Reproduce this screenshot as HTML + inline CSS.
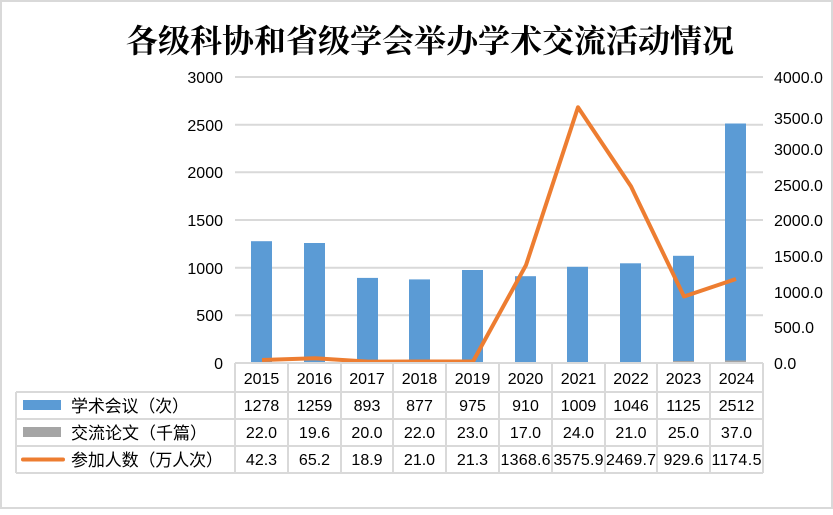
<!DOCTYPE html>
<html><head><meta charset="utf-8"><style>
body{margin:0;background:#fff}
svg text{font-family:"Liberation Sans","Noto Sans CJK SC",sans-serif;fill:#000}
</style></head><body>
<svg width="833" height="510" xmlns="http://www.w3.org/2000/svg">
<rect x="1" y="1" width="831" height="507" fill="#fff" stroke="#d9d9d9" stroke-width="2"/>
<text x="430" y="52" font-size="32" font-weight="bold" text-anchor="middle" textLength="608" style="font-family:'Noto Serif CJK SC','Noto Sans CJK SC',serif">各级科协和省级学会举办学术交流活动情况</text>
<g stroke="#d9d9d9" stroke-width="2">
<line x1="235" y1="77" x2="763" y2="77"/><line x1="235" y1="124.7" x2="763" y2="124.7"/>
<line x1="235" y1="172.3" x2="763" y2="172.3"/><line x1="235" y1="220" x2="763" y2="220"/>
<line x1="235" y1="267.7" x2="763" y2="267.7"/><line x1="235" y1="315.3" x2="763" y2="315.3"/>
</g>
<g font-size="16" text-anchor="end">
<text x="223" y="83">3000</text><text x="223" y="131">2500</text><text x="223" y="178">2000</text>
<text x="223" y="226">1500</text><text x="223" y="274">1000</text><text x="223" y="321">500</text><text x="223" y="369">0</text>
</g>
<g font-size="16">
<text x="774" y="83">4000.0</text><text x="774" y="124">3500.0</text><text x="774" y="155">3000.0</text>
<text x="774" y="191">2500.0</text><text x="774" y="226">2000.0</text><text x="774" y="262">1500.0</text>
<text x="774" y="298">1000.0</text><text x="774" y="333">500.0</text><text x="774" y="369">0.0</text>
</g>
<g fill="#5b9bd5">
<rect x="251" y="241.2" width="21" height="121.8"/>
<rect x="304" y="243" width="21" height="120"/>
<rect x="357" y="277.9" width="21" height="85.1"/>
<rect x="409" y="279.4" width="21" height="83.6"/>
<rect x="462" y="270" width="21" height="93"/>
<rect x="515" y="276.2" width="21" height="86.8"/>
<rect x="567" y="266.8" width="21" height="96.2"/>
<rect x="620" y="263.3" width="21" height="99.7"/>
<rect x="673" y="255.8" width="21" height="107.2"/>
<rect x="725" y="123.5" width="21" height="239.5"/>
</g>
<g fill="#a5a5a5">
<rect x="673" y="361" width="21" height="2"/><rect x="725" y="360.5" width="21" height="2.5"/>
</g>
<polyline fill="none" stroke="#ed7d31" stroke-width="4" stroke-linejoin="round" points="262,360 315,358.3 368,361.6 420,361.5 473,361.5 526,265.1 578,107.3 631,186.4 684,296.5 736,279"/>
<g stroke="#d9d9d9" stroke-width="2" fill="none">
<line x1="235" y1="363" x2="763" y2="363"/>
<line x1="16" y1="392" x2="763" y2="392"/>
<line x1="16" y1="419" x2="763" y2="419"/>
<line x1="16" y1="446" x2="763" y2="446"/>
<line x1="16" y1="473" x2="763" y2="473"/>
<line x1="16" y1="392" x2="16" y2="473"/>
<line x1="235" y1="363" x2="235" y2="473"/>
<line x1="288" y1="363" x2="288" y2="473"/><line x1="341" y1="363" x2="341" y2="473"/>
<line x1="393" y1="363" x2="393" y2="473"/><line x1="446" y1="363" x2="446" y2="473"/>
<line x1="499" y1="363" x2="499" y2="473"/><line x1="552" y1="363" x2="552" y2="473"/>
<line x1="605" y1="363" x2="605" y2="473"/><line x1="657" y1="363" x2="657" y2="473"/>
<line x1="710" y1="363" x2="710" y2="473"/><line x1="763" y1="363" x2="763" y2="473"/>
</g>
<rect x="23" y="400" width="38" height="10" fill="#5b9bd5"/>
<rect x="23" y="427" width="38" height="10" fill="#a5a5a5"/>
<line x1="23" y1="459.5" x2="63" y2="459.5" stroke="#ed7d31" stroke-width="4" stroke-linecap="round"/>
<g font-size="17" style="font-family:'Noto Serif CJK SC','Noto Sans CJK SC',serif">
<text x="71" y="412" textLength="118">学术会议（次）</text>
<text x="71" y="439" textLength="136">交流论文（千篇）</text>
<text x="71" y="466" textLength="152">参加人数（万人次）</text>
</g>
<g font-size="16" text-anchor="middle">
<text x="261.5" y="384">2015</text><text x="314.5" y="384">2016</text><text x="367" y="384">2017</text><text x="419.5" y="384">2018</text><text x="472.5" y="384">2019</text><text x="525.5" y="384">2020</text><text x="578.5" y="384">2021</text><text x="631" y="384">2022</text><text x="683.5" y="384">2023</text><text x="736.5" y="384">2024</text>
<text x="261.5" y="411">1278</text><text x="314.5" y="411">1259</text><text x="367" y="411">893</text><text x="419.5" y="411">877</text><text x="472.5" y="411">975</text><text x="525.5" y="411">910</text><text x="578.5" y="411">1009</text><text x="631" y="411">1046</text><text x="683.5" y="411">1125</text><text x="736.5" y="411">2512</text>
<text x="261.5" y="438">22.0</text><text x="314.5" y="438">19.6</text><text x="367" y="438">20.0</text><text x="419.5" y="438">22.0</text><text x="472.5" y="438">23.0</text><text x="525.5" y="438">17.0</text><text x="578.5" y="438">24.0</text><text x="631" y="438">21.0</text><text x="683.5" y="438">25.0</text><text x="736.5" y="438">37.0</text>
<text x="261.5" y="465">42.3</text><text x="314.5" y="465">65.2</text><text x="367" y="465">18.9</text><text x="419.5" y="465">21.0</text><text x="472.5" y="465">21.3</text><text x="525.5" y="465" textLength="50">1368.6</text><text x="578.5" y="465" textLength="50">3575.9</text><text x="631" y="465" textLength="50">2469.7</text><text x="683.5" y="465">929.6</text><text x="736.5" y="465" textLength="50">1174.5</text>
</g>
</svg>
</body></html>
